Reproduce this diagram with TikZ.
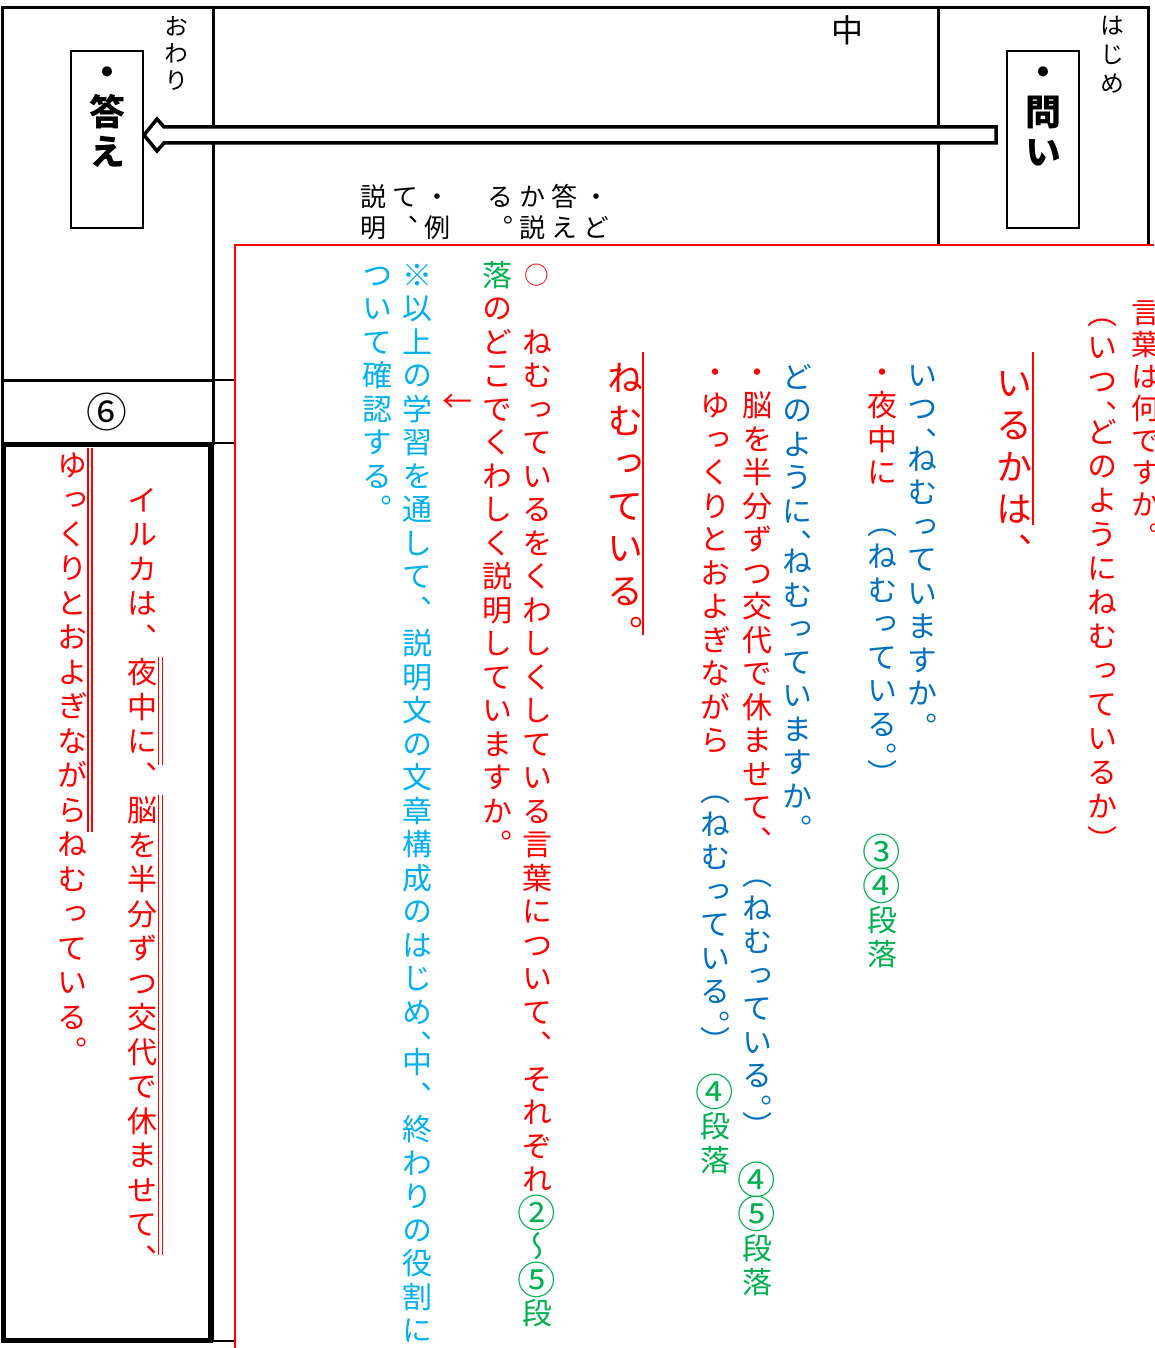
\documentclass[tikz,border=0pt]{standalone}
\usepackage{fontspec}
\newfontfamily\jp[RawFeature=+vert]{Noto Sans CJK JP}
\newfontfamily\jph{Noto Sans CJK JP}
\definecolor{jred}{HTML}{FF0000}
\definecolor{jblue}{HTML}{0070C0}
\definecolor{jgreen}{HTML}{00B050}
\definecolor{jcyan}{HTML}{00B0F0}
\newdimen\vtp \newdimen\vtu \newdimen\vtd
\def\vtend{\vtend}
\def\vtH{\vtH}
\def\vtcell#1{\setbox0\hbox to 1em{\hss#1\hss}\ht0=\vtu\dp0=\vtd\box0}
\def\vtloop#1{\ifx#1\vtend\else\ifx#1\vtH\kern-.5\vtp\else\vtcell{#1}\fi\expandafter\vtloop\fi}
\newcommand\vstack[3]{\vbox{\fontsize{#1}{#1}\selectfont\offinterlineskip\vtp=#2pt\relax
  \vtu=\dimexpr .5\vtp+.38em\relax \vtd=\dimexpr .5\vtp-.38em\relax
  \vtloop#3\vtend}}
% enlarged circled numbers and a smaller ring
\newcommand\bigc[1]{\raisebox{-.1em}{\scalebox{1.28}{#1}}}
\def\cii{\bigc{②}}
\def\ciii{\bigc{③}}
\def\civ{\bigc{④}}
\def\cv{\bigc{⑤}}
\def\ring{\raisebox{.05em}{\scalebox{.82}{○}}}
\tikzset{vt/.style={anchor=north,inner sep=0pt,outer sep=0pt,font=\jp},
  frame/.style={line width=3pt,line cap=rect},
  sideline/.style={jred,line width=1.6pt}}
% name, x, y of first cell centre, size, pitch, text
\newcommand\vcol[7][]{\node[vt,#1] (#2) at (#3,{#4-#6/2}) {\vstack{#5}{#6}{#7}};}
\begin{document}
\begin{tikzpicture}[x=1pt,y=-1pt]
\useasboundingbox (0,0) rectangle (1154,1348);
\clip (0,0) rectangle (1154,1348);
\fill[white] (0,0) rectangle (1154,1348);
% frame
\draw[frame] (2,8) -- (1148,8) -- (1148,245);
\draw[frame] (2,8) -- (2,444);
\draw[frame] (213,8) -- (213,443);
\draw[frame] (938,8) -- (938,245);
\draw[frame] (2,380) -- (213,380);
\draw[line width=2pt] (213,380) -- (235,380);
\draw[line width=5pt] (3,444) rectangle (210,1340);
\draw[line width=1.5pt] (213,443) -- (213,1341);
\draw[line width=1.5pt] (210,443) -- (235,443);
\draw[line width=1.5pt] (210,1341) -- (235,1341);
\draw[jred,line width=1.8pt] (235,1348) -- (235,245) -- (1154,245);
% headers
\vcol{owari}{176}{26}{24}{27}{おわり}
\vcol{hajime}{1112}{25}{24}{29}{はじめ}
\node[font=\jph\fontsize{32}{32}\selectfont,inner sep=0pt] (naka) at (847,30) {中};
\node[font=\jph\fontsize{34}{34}\selectfont,inner sep=0pt] (six) at (107,412) {\scalebox{1.2}{⑥}};
% boxes
\node[draw,line width=2pt,minimum width=72pt,minimum height=177pt,inner sep=0pt] (kotaebox) at (107,139.5) {};
\node[draw,line width=2pt,minimum width=72pt,minimum height=177pt,inner sep=0pt] (toibox) at (1043,139.5) {};
\vcol[font=\jp\bfseries]{kotae}{107}{72}{36}{40}{・答え}
\vcol[font=\jp\bfseries]{toi}{1043}{72}{36}{40}{・問い}
% arrow
\coordinate (atip) at ([yshift=4.5pt]kotaebox.east);
\coordinate (aend) at ([xshift=-10pt,yshift=4.5pt]toibox.west);
\draw[line width=3.5pt,fill=white,line join=miter]
  ([yshift=-8pt]aend) -- ([xshift=20pt,yshift=-8pt]atip) -- ([xshift=13pt,yshift=-16pt]atip)
  -- (atip) -- ([xshift=13pt,yshift=16pt]atip) -- ([xshift=20pt,yshift=8pt]atip)
  -- ([yshift=8pt]aend) -- cycle;
% small labels above the red box
\vcol{la}{373}{197}{26}{31}{説明}
\vcol{lb}{405}{197}{26}{31}{て、}
\vcol{lc}{437}{197}{26}{31}{・例}
\vcol{ld}{500}{197}{26}{31}{る。}
\vcol{le}{532}{197}{26}{31}{か説}
\vcol{lf}{564}{197}{26}{31}{答え}
\vcol{lg}{596}{197}{26}{31}{・ど}
% red box contents
\vcol[text=jred]{cA}{1146}{312}{29}{32}{言葉は何ですか。}
\vcol[text=jred]{cB}{1102}{313}{30}{34}{（いつ、\vtH どのようにねむっているか）}
\vcol[text=jred]{cC}{1014}{383}{36}{42}{いるかは、}
\draw[sideline] (1033,352) -- (1033,525);
\vcol[text=jblue]{cD}{922}{375}{30}{33.5}{いつ、\vtH ねむっていますか。}
\vcol[text=jred]{cE1}{882}{372}{30}{33.5}{・夜中に}
\vcol[text=jblue]{cE2}{882}{522.75}{30}{33.5}{（ねむっている。\vtH ）}
\vcol[text=jgreen]{cE3}{882}{852}{30}{34}{\ciii\civ 段落}
\vcol[text=jblue]{cF}{797}{377}{30}{33.5}{どのように、\vtH ねむっていますか。}
\vcol[text=jred]{cG1}{757}{372}{30}{33.5}{・脳を半分ずつ交代で休ませて、}
\vcol[text=jblue]{cG2}{757}{874.5}{30}{33.5}{（ねむっている。\vtH ）}
\vcol[text=jgreen]{cG3}{757}{1180}{30}{34}{\civ\cv 段落}
\vcol[text=jred]{cH1}{715}{372}{30}{33.5}{・ゆっくりとおよぎながら}
\vcol[text=jblue]{cH2}{715}{790.25}{30}{33.5}{（ねむっている。\vtH ）}
\vcol[text=jgreen]{cH3}{715}{1092}{30}{34}{\civ 段落}
\vcol[text=jred]{cI}{625}{378}{36}{42.5}{ねむっている。}
\draw[sideline] (643,352) -- (643,635);
\vcol[text=jred]{cJ1}{537}{275}{30}{33.5}{\ring~ねむっているをくわしくしている言葉について、それぞれ}
\vcol[text=jgreen]{cJ2}{537}{1213}{30}{33.5}{\cii～\cv 段}
\vcol[text=jgreen]{cK1}{497}{275}{30}{33.5}{落}
\vcol[text=jred]{cK2}{497}{308.5}{30}{33.5}{のどこでくわしく説明していますか。}
\node[font=\jph\fontsize{30}{30}\selectfont,text=jred,inner sep=0pt] (larrow) at (457,403) {←};
\vcol[text=jcyan]{cL}{417}{275}{30}{33.5}{※以上の学習を通して、説明文の文章構成のはじめ、\vtH 中、終わりの役割に}
\vcol[text=jcyan]{cM}{377}{275}{30}{33.5}{ついて確認する。}
% left box
\vcol[text=jred]{lx1}{142}{500}{30}{34.5}{イルカは、夜中に、脳を半分ずつ交代で休ませて、}
\vcol[text=jred]{lx2}{72}{465}{30}{34.5}{ゆっくりとおよぎながらねむっている。}
\draw[sideline,line width=1.4pt] (158.5,657) -- (158.5,765) (162.5,657) -- (162.5,765);
\draw[sideline,line width=1.4pt] (158.5,795) -- (158.5,1255) (162.5,795) -- (162.5,1255);
\draw[sideline,line width=1.4pt] (88,448) -- (88,832) (92,448) -- (92,832);
\end{tikzpicture}
\end{document}
